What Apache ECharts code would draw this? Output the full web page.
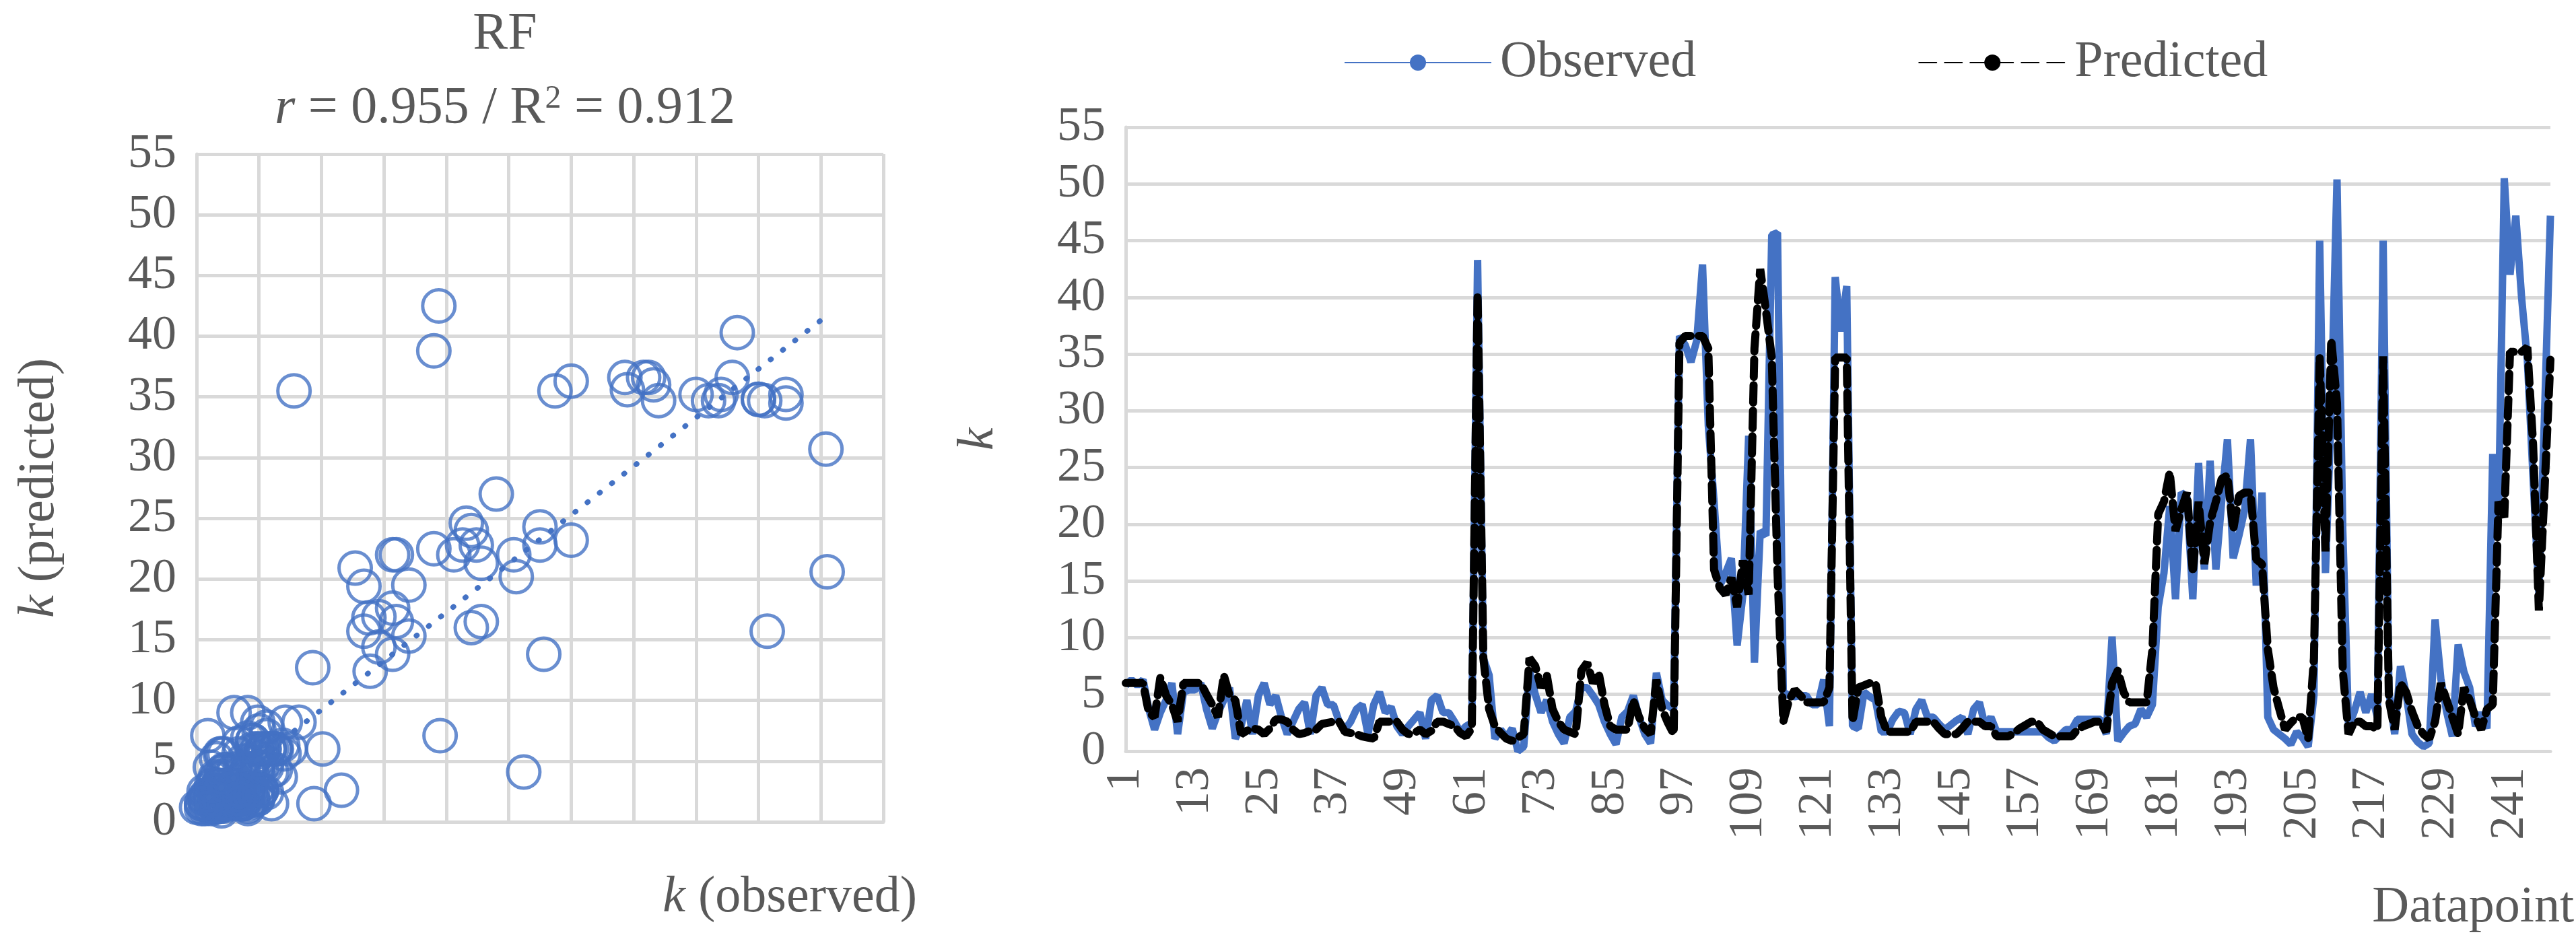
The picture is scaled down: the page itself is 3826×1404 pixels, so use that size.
<!DOCTYPE html>
<html><head><meta charset="utf-8">
<script src="https://cdn.jsdelivr.net/npm/echarts@6/dist/echarts.min.js"></script>
<style>html,body{margin:0;padding:0;background:#fff}#c{width:3826px;height:1404px}</style>
</head><body><div id="c"></div>
<script>
// Observed k per datapoint (1..248)
const observed = [
5.8,6.3,5.8,6.3,3.7,1.9,3.4,4.5,6,1.5, 5.2,5.4,5.4,6,3.7,2,3.4,4.5,5.6,1.1,
2.2,4.5,1.5,4.9,6,4.1,4.9,3,1.5,2.6, 3.7,4.3,1.5,4.9,5.6,4.1,4.1,2.6,1.9,2.6,
3.7,4.1,1.5,4.1,5.2,3.4,3.9,2.2,1.5,2.2, 2.8,3.4,1.1,4.5,4.9,3.4,3.4,2.6,1.7,2.2,
2.5,43.3,
8.2,6.7,1.1,1.9,1.2,2,0,0.4,7.1,5, 3.4,4.5,2.6,1.5,0.7,3,3.5,5.6,5.6,4.9,
4.1,2.6,1.5,0.6,3,3.5,4.9,3,1.5,0.7, 6.9,4.5,4,3.7,36.6,35.8,34.3,36.2,42.9,28.7,
22,14.6,15.7,17,9.3,13.8,27.8,7.8,19.4,19, 45.5,45.7,5.2,4.9,4.8,4.9,4.9,4.1,4.1,6.3,
2.2,41.8,37,41,2.2,
2,5.2,4.8,4.5,1.7,1.7,2.8,3.5,3.4,1.5, 3.7,4.5,3,3,2.4,1.9,2.3,2.7,3,1.5,
3.7,4.3,2.2,3,1.7,1.7,1.7,1.7,1.7,1.7, 1.7,1.7,1.7,1.2,0.9,1.4,1.9,1.9,2.8,2.8,
2.8,2.8,2.8,1.5,10.1,0.9,1.6,2.2,2.4,3.7, 3,4.1,12.7,15.7,21.6,13.4,22.8,22.4,13.4,
25.4,16,25.6,16,22,27.5,17,19,21.3,27.5, 14.6,22.8,3,1.9,1.5,1.1,0.6,1.7,1.2,0.4,
4.9,45,15.7,30,50.4,19.5,2.2,3.5,5.2,3.4, 5,3,45,5.2,1.5,7.5,5,1.5,0.8,0.4,
0.7,11.6,6.4,3.5,1.3,9.4,7,5.6,2.2,3.4, 2,26.2,20.6,50.5,42,47.2,40,34.5,24,13.9,
30,47.2];
// Predicted k per datapoint (1..248)
const predicted = [
6,6,6,6,3.4,3,6.5,4.9,4.1,2.6, 6,6,6,6,5,4.1,3,6.7,4.9,4.5,
1.5,1.8,2.0,1.9,1.5,2.0,2.8,2.8,2.6,1.9, 1.5,1.6,1.8,1.9,2.4,2.5,2.6,2.6,1.7,1.6,
1.5,1.3,1.2,1.1,2.6,2.6,2.6,2.6,1.9,1.5, 1.6,1.9,1.5,1.8,2.6,2.6,2.4,2.2,1.6,1.3,
2.0,40.3,
8.2,3.7,2.2,1.6,1.1,0.9,1.2,1.5,8.2,7.5, 5.6,6.7,3.7,2.6,1.9,1.7,1.5,7.1,7.8,6,
6.9,4.1,2.2,1.9,1.9,1.9,4.5,3,2,1.5, 6.3,3.7,2.5,1.5,36,36.6,36.6,36.6,36.6,35.5,
16,14.4,13.8,15.3,12.7,16.8,13.8,35.5,42.5,38.8, 34.7,15.7,2.6,4.5,5.4,4.9,4.3,4.3,4.3,4.3,
5.6,34.7,34.7,34.7,2.6,
5.6,5.8,6,6,3,1.7,1.7,1.7,1.7,1.7, 2.6,2.6,2.6,2.6,2,1.5,1.5,1.5,2,2.6,
2.6,2.6,2.2,2.2,1.3,1.3,1.3,1.6,2,2.3, 2.6,2.6,1.9,1.6,1.3,1.3,1.3,1.3,1.9,2.2,
2.4,2.6,2.6,1.7,6,7.1,5.2,4.3,4.3,4.3, 4.3,9,20.9,22,24.6,19.4,21.3,22.8,15.7,
22,16.5,20.2,22,24,24.3,19.5,22.5,22.8,22.8, 16.9,16.5,9,5.6,3.7,1.9,2.5,3,3,1.1,
8.2,34.8,17.6,36.3,30.7,7.1,1.5,2.6,2.6,2.2, 2.2,1.9,34.8,4.5,1.9,6,5.2,3.5,2.2,1.5,
1.1,2.6,6,4.5,3,1.5,5.6,4.5,3,1.9, 3.7,4.1,22,20.6,35.2,35.2,35.2,35.6,27,12.4,
23.2,34.5];
const datapoints = observed.map((_, i) => String(i + 1));
const titleText = 'RF';
const statsText = { r: '0.955', R2: '0.912' };

// regression for trendline (predicted vs observed)
const n = observed.length;
const mx = observed.reduce((a,b)=>a+b,0)/n, my = predicted.reduce((a,b)=>a+b,0)/n;
let sxy=0,sxx=0; for(let i=0;i<n;i++){sxy+=(observed[i]-mx)*(predicted[i]-my);sxx+=(observed[i]-mx)**2;}
const slope=sxy/sxx, icpt=my-slope*mx;
const xmin=Math.min(...observed), xmax=Math.max(...observed);
const trend=[[xmin,icpt+slope*xmin],[xmax,icpt+slope*xmax]];

const F='Liberation Serif', C='#595959', G='#d9d9d9';
const chart=echarts.init(document.getElementById('c'),null,{renderer:'canvas'});
chart.setOption({
  animation:false,
  title:[
    {text:titleText,left:745,top:8,textAlign:'center',textStyle:{fontFamily:F,fontSize:78,fontWeight:'normal',color:C}},
    {text:'{i|r} = '+statsText.r+' / R{s|2} = '+statsText.R2,left:745,top:118,textAlign:'center',
     textStyle:{fontFamily:F,fontSize:78,fontWeight:'normal',color:C,
      rich:{i:{fontFamily:F,fontSize:78,fontStyle:'italic',color:C},s:{fontFamily:F,fontSize:48,color:C,verticalAlign:'top',padding:[0,0,30,0]}}}}
  ],
  legend:{left:1991,top:50,itemWidth:218,itemHeight:30,itemGap:330,
    textStyle:{fontFamily:F,fontSize:76,color:C,padding:[0,0,0,8]},
    data:['Observed','Predicted']},
  grid:[
    {left:292,right:2514,top:229,bottom:183},
    {left:1672,right:35,top:189,bottom:288}
  ],
  xAxis:[
    {gridIndex:0,type:'value',min:0,max:55,interval:5,axisLabel:{show:false},axisTick:{show:false},
     axisLine:{lineStyle:{color:G,width:5}},splitLine:{lineStyle:{color:G,width:5}},
     name:'{i|k} (observed)',nameLocation:'end',nameGap:0,
     nameTextStyle:{fontFamily:F,fontSize:76,color:C,align:'right',verticalAlign:'top',padding:[75,-50,0,0],
       rich:{i:{fontFamily:F,fontSize:76,fontStyle:'italic',color:C}}}},
    {gridIndex:1,type:'category',data:datapoints,boundaryGap:false,
     axisLine:{lineStyle:{color:G,width:5}},axisTick:{show:false},splitLine:{show:false},
     axisLabel:{interval:11,rotate:90,fontFamily:F,fontSize:72,color:C,margin:24},
     name:'Datapoint',nameLocation:'end',nameGap:0,
     nameTextStyle:{fontFamily:F,fontSize:76,color:C,align:'right',verticalAlign:'top',padding:[195,-35,0,0]}}
  ],
  yAxis:[
    {gridIndex:0,type:'value',min:0,max:55,interval:5,axisTick:{show:false},
     axisLine:{show:true,lineStyle:{color:G,width:5}},splitLine:{lineStyle:{color:G,width:5}},
     axisLabel:{fontFamily:F,fontSize:72,color:C,margin:30},
     name:'{i|k} (predicted)',nameLocation:'middle',nameGap:195,nameRotate:90,
     nameTextStyle:{fontFamily:F,fontSize:76,color:C,rich:{i:{fontFamily:F,fontSize:76,fontStyle:'italic',color:C}}}},
    {gridIndex:1,type:'value',min:0,max:55,interval:5,axisTick:{show:false},
     axisLine:{show:true,lineStyle:{color:G,width:5}},splitLine:{lineStyle:{color:G,width:5}},
     axisLabel:{fontFamily:F,fontSize:72,color:C,margin:30},
     name:'k',nameLocation:'middle',nameGap:180,nameRotate:90,
     nameTextStyle:{fontFamily:F,fontSize:76,fontStyle:'italic',color:C}}
  ],
  series:[
    {type:'scatter',xAxisIndex:0,yAxisIndex:0,data:observed.map((o,i)=>[o,predicted[i]]),
     symbolSize:48,itemStyle:{color:'rgba(0,0,0,0)',borderColor:'#4472C4',borderWidth:5}},
    {type:'line',xAxisIndex:0,yAxisIndex:0,data:trend,symbol:'none',
     lineStyle:{color:'#4472C4',width:8,type:[1,22],cap:'round'}},
    {name:'Observed',type:'line',xAxisIndex:1,yAxisIndex:1,data:observed,symbol:'none',
     lineStyle:{color:'#4472C4',width:11},itemStyle:{color:'#4472C4'}},
    {name:'Predicted',type:'line',xAxisIndex:1,yAxisIndex:1,data:predicted,symbol:'none',
     lineStyle:{color:'#000',width:12,type:[26,12],cap:'round'},itemStyle:{color:'#000'}}
  ]
});
</script></body></html>
